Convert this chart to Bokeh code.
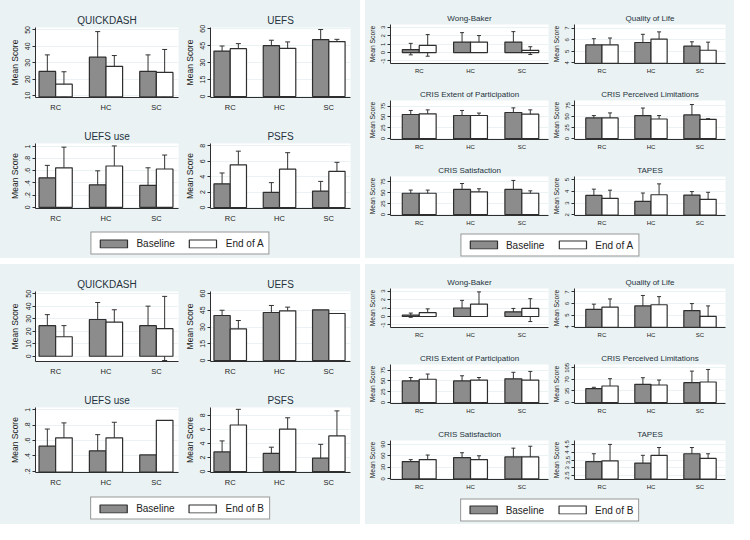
import math
from bokeh.plotting import figure
from bokeh.models import ColumnDataSource, Whisker, TeeHead, FixedTicker, Range1d, Legend, LegendItem
from bokeh.transform import dodge
from bokeh.layouts import row, column
from bokeh.embed import file_html
from bokeh.resources import INLINE

NaN = float("nan")
GROUPS = ["RC", "HC", "SC"]
SERIES_A = ["Baseline", "End of A"]
SERIES_B = ["Baseline", "End of B"]
YLABEL = "Mean Score"

# ---------------- Panel A, left ----------------
QD_A_MEAN = [[24.7, 33.4, 24.7], [16.9, 27.8, 24.1]]
QD_A_LO = [[14.4, 17.7, 14.9], [9.6, 21.1, 9.0]]
QD_A_HI = [[34.8, 49.0, 34.8], [24.5, 34.4, 38.1]]
QD_A_TICKS = [10, 20, 30, 40, 50]
QD_A_LABELS = ["10", "20", "30", "40", "50"]

UEFS_A_MEAN = [[40.3, 45.1, 50.4], [42.4, 42.7, 48.7]]
UEFS_A_LO = [[36.1, 38.8, 43.6], [37.9, 38.2, 46.6]]
UEFS_A_HI = [[44.8, 49.9, 59.4], [46.9, 48.4, 50.7]]
UEFS_TICKS = [0, 15, 30, 45, 60]
UEFS_LABELS = ["0", "15", "30", "45", "60"]

UU_A_MEAN = [[0.485, 0.37, 0.36], [0.65, 0.68, 0.63]]
UU_A_LO = [[0.29, 0.15, 0.05], [0.32, 0.36, 0.41]]
UU_A_HI = [[0.69, 0.60, 0.65], [0.99, 1.01, 0.86]]
UU_A_TICKS = [0, 0.2, 0.4, 0.6, 0.8, 1]
UU_A_LABELS = ["0", ".2", ".4", ".6", ".8", "1"]

PSFS_A_MEAN = [[3.07, 1.98, 2.14], [5.54, 4.97, 4.69]]
PSFS_A_LO = [[1.58, 0.73, 0.93], [3.8, 2.79, 3.52]]
PSFS_A_HI = [[4.48, 3.23, 3.39], [7.31, 7.11, 5.86]]
PSFS_TICKS = [0, 2, 4, 6, 8]
PSFS_LABELS = ["0", "2", "4", "6", "8"]

# ---------------- Panel A, right ----------------
WB_A_MEAN = [[0.35, 1.25, 1.25], [0.86, 1.25, 0.27]]
WB_A_LO = [[-0.27, 0.12, 0.04], [-0.43, 0.43, -0.23]]
WB_A_HI = [[1.1, 2.38, 2.5], [2.15, 2.03, 0.7]]
WB_TICKS = [-1, 0, 1, 2, 3]
WB_LABELS = ["-1", "0", "1", "2", "3"]

QOL_A_MEAN = [[5.56, 5.76, 5.44], [5.56, 6.06, 5.09]]
QOL_A_LO = [[5.0, 5.2, 5.0], [4.91, 5.41, 4.47]]
QOL_A_HI = [[6.09, 6.47, 5.82], [6.15, 6.68, 5.79]]
QOL_TICKS = [4, 5, 6, 7]
QOL_LABELS = ["4", "5", "6", "7"]

CEP_A_MEAN = [[55.7, 53.4, 60.3], [57.2, 53.4, 56.5]]
CEP_A_LO = [[44.3, 41.2, 48.1], [43.5, 49.6, 45.8]]
CEP_A_HI = [[65.0, 65.0, 71.0], [66.4, 59.0, 66.4]]
C25_TICKS = [0, 25, 50, 75]
C25_LABELS = ["0", "25", "50", "75"]

CPL_A_MEAN = [[46.6, 52.0, 53.4], [46.6, 44.3, 43.5]]
CPL_A_LO = [[41.2, 36.0, 32.0], [35.0, 38.2, 42.7]]
CPL_A_HI = [[52.0, 69.0, 77.0], [58.0, 52.0, 45.0]]

CS_A_MEAN = [[48.8, 57.5, 57.5], [48.8, 52.0, 48.8]]
CS_A_LO = [[41.0, 43.3, 36.0], [41.0, 44.9, 42.5]]
CS_A_HI = [[56.0, 71.0, 78.0], [56.0, 59.0, 54.3]]

TAPES_A_MEAN = [[3.65, 3.14, 3.68], [3.41, 3.71, 3.32]]
TAPES_A_LO = [[3.08, 2.42, 3.41], [2.69, 2.78, 2.51]]
TAPES_A_HI = [[4.19, 3.86, 3.98], [4.1, 4.64, 3.92]]
TAPES_A_TICKS = [2, 3, 4, 5]
TAPES_A_LABELS = ["2", "3", "4", "5"]

# ---------------- Panel B, left ----------------
QD_B_MEAN = [[24.5, 29.4, 24.5], [15.6, 27.3, 22.1]]
QD_B_LO = [[15.1, 14.6, 8.6], [7.6, 17.2, -3.4]]
QD_B_HI = [[33.3, 43.0, 40.1], [24.5, 37.2, 47.9]]
QD_B_TICKS = [0, 10, 20, 30, 40, 50]
QD_B_LABELS = ["0", "10", "20", "30", "40", "50"]

UEFS_B_MEAN = [[40.3, 43.0, 45.4], [28.4, 44.5, 42.1]]
UEFS_B_LO = [[34.9, 37.0, NaN], [20.9, 41.8, NaN]]
UEFS_B_HI = [[45.0, 49.3, NaN], [35.8, 47.8, NaN]]

UU_B_MEAN = [[0.527, 0.467, 0.414], [0.636, 0.636, 0.863]]
UU_B_LO = [[0.30, 0.236, NaN], [0.44, 0.434, NaN]]
UU_B_HI = [[0.75, 0.677, NaN], [0.83, 0.838, NaN]]
UU_B_TICKS = [0.2, 0.4, 0.6, 0.8, 1]
UU_B_LABELS = [".2", ".4", ".6", ".8", "1"]

PSFS_B_MEAN = [[2.8, 2.58, 1.91], [6.62, 6.04, 5.07]]
PSFS_B_LO = [[1.24, 1.82, -0.05], [4.4, 4.49, 1.56]]
PSFS_B_HI = [[4.36, 3.47, 3.87], [8.84, 7.64, 8.62]]

# ---------------- Panel B, right ----------------
WB_B_MEAN = [[0.15, 1.0, 0.55], [0.45, 1.45, 0.95]]
WB_B_LO = [[-0.1, 0.3, 0.15], [0.1, 0.2, -0.6]]
WB_B_HI = [[0.4, 1.9, 0.95], [0.9, 2.9, 2.1]]

QOL_B_MEAN = [[5.5, 5.8, 5.4], [5.7, 5.9, 4.9]]
QOL_B_LO = [[5.1, 5.0, 4.6], [5.1, 5.1, 4.0]]
QOL_B_HI = [[5.95, 6.7, 6.0], [6.4, 6.6, 5.8]]

CEP_B_MEAN = [[50.0, 50.0, 55.0], [54.0, 52.0, 52.0]]
CEP_B_LO = [[43.0, 40.0, 40.0], [45.0, 46.0, 35.0]]
CEP_B_HI = [[58.0, 62.0, 70.0], [66.0, 58.0, 72.0]]

CPL_B_MEAN = [[42.0, 55.0, 60.0], [50.0, 53.0, 62.0]]
CPL_B_LO = [[38.0, 40.0, 30.0], [35.0, 38.0, 28.0]]
CPL_B_HI = [[46.0, 75.0, 95.0], [72.0, 68.0, 100.0]]
C35_TICKS = [0, 35, 70, 105]
C35_LABELS = ["0", "35", "70", "105"]

CS_B_MEAN = [[45.0, 55.0, 57.0], [50.0, 50.0, 57.0]]
CS_B_LO = [[40.0, 42.0, 35.0], [40.0, 40.0, 30.0]]
CS_B_HI = [[50.0, 68.0, 80.0], [62.0, 60.0, 85.0]]
C30_TICKS = [0, 30, 60, 90]
C30_LABELS = ["0", "30", "60", "90"]

TAPES_B_MEAN = [[3.4, 3.3, 3.9], [3.45, 3.8, 3.6]]
TAPES_B_LO = [[2.9, 2.6, 3.5], [2.6, 3.2, 3.2]]
TAPES_B_HI = [[3.9, 3.8, 4.3], [4.5, 4.3, 3.9]]
TAPES_B_TICKS = [2.5, 3, 3.5, 4, 4.5]
TAPES_B_LABELS = ["2.5", "3", "3.5", "4", "4.5"]

# ---------------- styling ----------------
PANEL_BG = "#EAF2F3"
GRID = "#EAF2F3"
BASE_FILL = "#8C8C8C"
EDGE = "#2E2E2E"
ERR = "#333333"
TEXT = "#222222"
TITLE_C = "#26323E"
FONT = "Liberation Sans"
BAR_W = 0.33
OFF = 0.165
BG_STYLE = {"background-color": PANEL_BG}


def spec(title, mean, lo, hi, ticks, labels, yr, base):
    return dict(title=title, mean=mean, lo=lo, hi=hi, ticks=ticks, labels=labels, yr=yr, base=base)


def make_sub(s, w, h, bl, br, bt, bb, xr, f):
    p = figure(width=w, height=h, output_backend="svg", toolbar_location=None,
               x_range=Range1d(*xr), y_range=Range1d(*s["yr"]),
               min_border_left=bl, min_border_right=br, min_border_top=bt, min_border_bottom=bb,
               background_fill_color="white", border_fill_color=PANEL_BG,
               outline_line_color=None, styles=BG_STYLE)
    xs = list(range(len(GROUPS)))
    src = ColumnDataSource(dict(x=xs, b=s["mean"][0], e=s["mean"][1]))
    p.vbar(x=dodge("x", -OFF), top="b", bottom=s["base"], width=BAR_W, source=src,
           fill_color=BASE_FILL, line_color=EDGE, line_width=1.2)
    p.vbar(x=dodge("x", OFF), top="e", bottom=s["base"], width=BAR_W, source=src,
           fill_color="white", line_color=EDGE, line_width=1.2)
    for k, off in ((0, -OFF), (1, OFF)):
        wx, wl, wh = [], [], []
        for i in xs:
            lo = s["lo"][k][i]
            hi = s["hi"][k][i]
            if not (math.isnan(lo) or math.isnan(hi)):
                wx.append(i); wl.append(lo); wh.append(hi)
        if wx:
            wsrc = ColumnDataSource(dict(x=wx, lo=wl, hi=wh))
            wk = Whisker(base=dodge("x", off), lower="lo", upper="hi", source=wsrc,
                         line_color=ERR, line_width=1,
                         upper_head=TeeHead(size=f["cap"], line_color=ERR, line_width=1),
                         lower_head=TeeHead(size=f["cap"], line_color=ERR, line_width=1))
            p.add_layout(wk)
    p.title.text = s["title"]
    p.title.align = "center"
    p.title.text_font = FONT
    p.title.text_font_style = "normal"
    p.title.text_font_size = f["title"]
    p.title.text_color = TITLE_C
    p.title.standoff = f["tstand"]

    ya = p.yaxis[0]
    ya.ticker = FixedTicker(ticks=s["ticks"])
    ya.major_label_overrides = {t: l for t, l in zip(s["ticks"], s["labels"])}
    ya.major_label_orientation = "vertical"
    ya.major_label_text_font = FONT
    ya.major_label_text_font_size = f["ytick"]
    ya.major_label_text_color = TEXT
    ya.major_label_standoff = 2
    ya.axis_label = YLABEL
    ya.axis_label_text_font = FONT
    ya.axis_label_text_font_style = "normal"
    ya.axis_label_text_font_size = f["ylab"]
    ya.axis_label_text_color = TEXT
    ya.axis_label_standoff = 3
    ya.major_tick_out = 3
    ya.major_tick_in = 0
    ya.minor_tick_line_color = None
    ya.axis_line_color = EDGE
    ya.major_tick_line_color = EDGE

    xa = p.xaxis[0]
    xa.ticker = FixedTicker(ticks=xs)
    xa.major_label_overrides = {i: g for i, g in zip(xs, GROUPS)}
    xa.major_label_text_font = FONT
    xa.major_label_text_font_size = f["xtick"]
    xa.major_label_text_color = TEXT
    xa.major_label_standoff = f["xstand"]
    xa.major_tick_out = 0
    xa.major_tick_in = 0
    xa.minor_tick_line_color = None
    xa.axis_line_color = EDGE

    p.xgrid.visible = False
    p.ygrid.grid_line_color = GRID
    p.ygrid.grid_line_width = 1
    return p


def make_legend(w, h, series):
    p = figure(width=w, height=h, output_backend="svg", toolbar_location=None,
               x_range=Range1d(0, 1), y_range=Range1d(0, 1), x_axis_type=None, y_axis_type=None,
               min_border=0, background_fill_color=PANEL_BG, border_fill_color=PANEL_BG,
               outline_line_color=None, styles=BG_STYLE)
    p.grid.visible = False
    # legend keys only: one bar each, placed outside the visible range
    r1 = p.vbar(x=[-5], top=[-5], bottom=[-6], width=0.1,
                fill_color=BASE_FILL, line_color=EDGE, line_width=1.2)
    r2 = p.vbar(x=[-5], top=[-5], bottom=[-6], width=0.1,
                fill_color="white", line_color=EDGE, line_width=1.2)
    leg = Legend(items=[LegendItem(label=series[0], renderers=[r1]),
                        LegendItem(label=series[1], renderers=[r2])],
                 orientation="horizontal", location="center",
                 glyph_width=34, glyph_height=10, label_standoff=6, spacing=11,
                 padding=5, margin=0, label_text_font=FONT, label_text_font_size="10px",
                 label_text_color=TEXT, border_line_color=EDGE, border_line_width=1,
                 background_fill_color="white", background_fill_alpha=1.0)
    p.add_layout(leg, "center")
    return p


def panel(specs, ncols, cols, rows_g, legend_h, series, xr, f):
    width = sum(c[0] for c in cols)
    kids = []
    for r, (h, bt, bb) in enumerate(rows_g):
        figs = []
        for c, (w, bl, br) in enumerate(cols):
            figs.append(make_sub(specs[r * ncols + c], w, h, bl, br, bt, bb, xr, f))
        kids.append(row(figs, spacing=0, styles=BG_STYLE))
    kids.append(make_legend(width, legend_h, series))
    return column(kids, spacing=0, styles=BG_STYLE)


BIG = dict(title="10px", ytick="7px", ylab="8.5px", xtick="7.5px", cap=5, tstand=4, xstand=5)
SMALL = dict(title="8px", ytick="6px", ylab="6.8px", xtick="6px", cap=4, tstand=3, xstand=4)

LEFT_COLS = [(180, 35, 2), (180, 30, 10)]
RIGHT_COLS = [(184, 24, 1), (185, 23, 9)]
LEFT_ROWS = [(126, 27, 29), (102, 13, 20)]
RIGHT_ROWS = [(79, 24, 16), (76, 21, 16), (76, 21, 16)]
XR_LEFT = (-0.40, 2.44)
XR_RIGHT = (-0.56, 2.52)

tl = [spec("QUICKDASH", QD_A_MEAN, QD_A_LO, QD_A_HI, QD_A_TICKS, QD_A_LABELS, (8.8, 51.5), 9.2),
      spec("UEFS", UEFS_A_MEAN, UEFS_A_LO, UEFS_A_HI, UEFS_TICKS, UEFS_LABELS, (-0.9, 61.2), 0),
      spec("UEFS use", UU_A_MEAN, UU_A_LO, UU_A_HI, UU_A_TICKS, UU_A_LABELS, (-0.02, 1.05), 0),
      spec("PSFS", PSFS_A_MEAN, PSFS_A_LO, PSFS_A_HI, PSFS_TICKS, PSFS_LABELS, (-0.12, 8.3), 0)]
tr = [spec("Wong-Baker", WB_A_MEAN, WB_A_LO, WB_A_HI, WB_TICKS, WB_LABELS, (-1.3, 3.35), 0),
      spec("Quality of Life", QOL_A_MEAN, QOL_A_LO, QOL_A_HI, QOL_TICKS, QOL_LABELS, (3.94, 7.32), 3.96),
      spec("CRIS Extent of Participation", CEP_A_MEAN, CEP_A_LO, CEP_A_HI, C25_TICKS, C25_LABELS, (-2, 88), 0),
      spec("CRIS Perceived Limitations", CPL_A_MEAN, CPL_A_LO, CPL_A_HI, C25_TICKS, C25_LABELS, (-2, 86), 0),
      spec("CRIS Satisfaction", CS_A_MEAN, CS_A_LO, CS_A_HI, C25_TICKS, C25_LABELS, (-2, 87), 0),
      spec("TAPES", TAPES_A_MEAN, TAPES_A_LO, TAPES_A_HI, TAPES_A_TICKS, TAPES_A_LABELS, (1.94, 5.27), 1.97)]
bl = [spec("QUICKDASH", QD_B_MEAN, QD_B_LO, QD_B_HI, QD_B_TICKS, QD_B_LABELS, (-4.2, 51.8), 0),
      spec("UEFS", UEFS_B_MEAN, UEFS_B_LO, UEFS_B_HI, UEFS_TICKS, UEFS_LABELS, (-0.9, 61.8), 0),
      spec("UEFS use", UU_B_MEAN, UU_B_LO, UU_B_HI, UU_B_TICKS, UU_B_LABELS, (0.185, 1.03), 0.19),
      spec("PSFS", PSFS_B_MEAN, PSFS_B_LO, PSFS_B_HI, PSFS_TICKS, PSFS_LABELS, (-0.12, 9.1), 0)]
br = [spec("Wong-Baker", WB_B_MEAN, WB_B_LO, WB_B_HI, WB_TICKS, WB_LABELS, (-1.3, 3.3), 0),
      spec("Quality of Life", QOL_B_MEAN, QOL_B_LO, QOL_B_HI, QOL_TICKS, QOL_LABELS, (3.94, 7.3), 3.96),
      spec("CRIS Extent of Participation", CEP_B_MEAN, CEP_B_LO, CEP_B_HI, C25_TICKS, C25_LABELS, (-2, 88), 0),
      spec("CRIS Perceived Limitations", CPL_B_MEAN, CPL_B_LO, CPL_B_HI, C35_TICKS, C35_LABELS, (-3, 115), 0),
      spec("CRIS Satisfaction", CS_B_MEAN, CS_B_LO, CS_B_HI, C30_TICKS, C30_LABELS, (-2, 100), 0),
      spec("TAPES", TAPES_B_MEAN, TAPES_B_LO, TAPES_B_HI, TAPES_B_TICKS, TAPES_B_LABELS, (2.25, 4.75), 2.28)]

p_tl = panel(tl, 2, LEFT_COLS, LEFT_ROWS, 30, SERIES_A, XR_LEFT, BIG)
p_tr = panel(tr, 2, RIGHT_COLS, RIGHT_ROWS, 27, SERIES_A, XR_RIGHT, SMALL)
p_bl = panel(bl, 2, LEFT_COLS, LEFT_ROWS, 32, SERIES_B, XR_LEFT, BIG)
p_br = panel(br, 2, RIGHT_COLS, RIGHT_ROWS, 29, SERIES_B, XR_RIGHT, SMALL)

layout = column(row(p_tl, p_tr, spacing=5), row(p_bl, p_br, spacing=5), spacing=6)

open("out.html", "w").write(file_html(layout, INLINE))
